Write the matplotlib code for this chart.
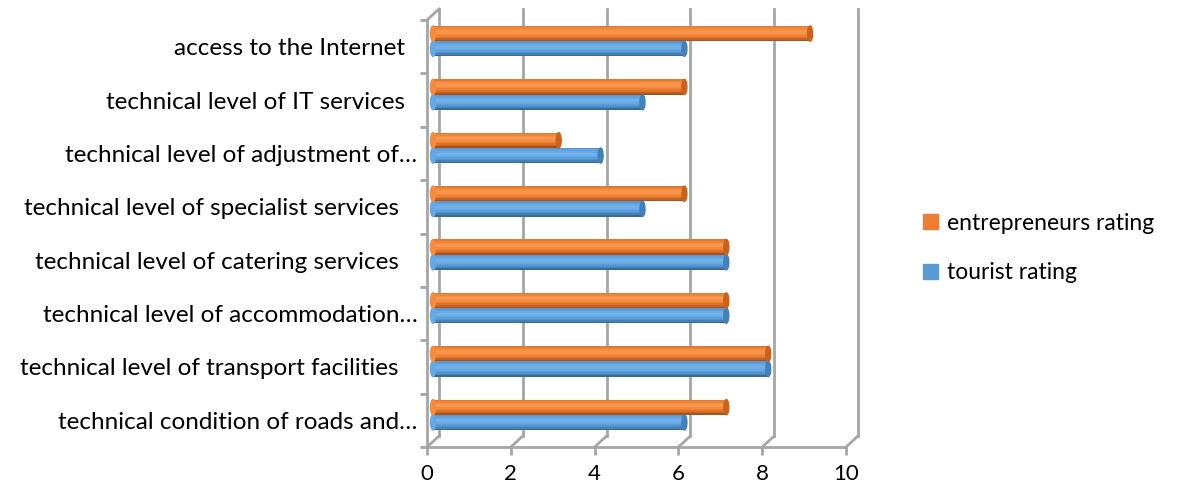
import numpy as np
import matplotlib
matplotlib.use('Agg')
import matplotlib.pyplot as plt
from matplotlib.patches import Patch, Ellipse

plt.rcParams['font.family'] = ['Lato', 'DejaVu Sans']

# data (bottom to top, as in the chart)
categories = ['technical condition of roads and…',
              'technical level of transport facilities   ',
              'technical level of accommodation…',
              'technical level of catering services   ',
              'technical level of specialist services   ',
              'technical level of adjustment of…',
              'technical level of IT services  ',
              'access to the Internet  ']
tourist = [6, 8, 7, 7, 5, 4, 5, 6]
entrepreneurs = [7, 8, 7, 7, 6, 3, 6, 9]
xticks = [0, 2, 4, 6, 8, 10]

W, H = 1178, 497
fig = plt.figure(figsize=(W / 100, H / 100), dpi=100)
ax = fig.add_axes([427 / W, 50 / H, 419 / W, 427 / H])
ax.set_xlim(0, 10)
ax.set_ylim(0, 8)
ax.set_facecolor('none')

pxx = 419 / 10.0   # pixels per x unit
pxy = 427 / 8.0    # pixels per category
gray = '#a6a6a6'

# back wall / floor offset (pseudo 3d)
bdx, bdy = 12 / pxx, 11 / pxy
for x in xticks:
    ax.plot([x + bdx, x + bdx], [bdy, 8 + bdy], color=gray, lw=2, clip_on=False, zorder=1)
    ax.plot([x, x + bdx], [0, bdy], color=gray, lw=2, clip_on=False, zorder=1)
ax.plot([0, bdx], [8, 8 + bdy], color=gray, lw=2, clip_on=False, zorder=1)

# cylinder bars
ddx, ddy = 6 / pxx, 5.5 / pxy
bh = 0.285
shade_o = ['#a9531a', '#c7631f', '#de7229', '#ec7f33', '#f48b3e', '#f7954a',
           '#f8984e', '#f59045', '#ee853a', '#e27a30']
shade_b = ['#3a6a98', '#4580b6', '#5293cd', '#5c9edb', '#66a8e4', '#6eb0ea',
           '#70b2eb', '#6aabe6', '#60a2df', '#5896d2']


def cylinder(vals, base, shades):
    y = np.arange(len(vals)) + base + ddy
    n = len(shades)
    for k, c in enumerate(shades):
        ax.barh(y + k * bh / n, vals, height=bh / n * 1.05, left=ddx, align='edge',
                color=c, lw=0, zorder=3, clip_on=False)
    for v, yy in zip(vals, y):
        ax.add_patch(Ellipse((v + ddx, yy + bh / 2), 5 / pxx, bh, color=shades[1],
                             zorder=4, clip_on=False))
        ax.add_patch(Ellipse((ddx, yy + bh / 2), 5 / pxx, bh, color=shades[4],
                             zorder=4, clip_on=False))


cylinder(tourist, 0.5 - bh, shade_b)
cylinder(entrepreneurs, 0.5, shade_o)

# axes lines and ticks
for s in ['top', 'right']:
    ax.spines[s].set_visible(False)
for s in ['left', 'bottom']:
    ax.spines[s].set_color(gray)
    ax.spines[s].set_linewidth(2)
ax.set_xticks(xticks)
ax.set_xticklabels([str(x) for x in xticks], fontsize=16)
ax.set_yticks(range(9))
ax.set_yticklabels([])
ax.set_yticks(np.arange(8) + 0.5, minor=True)
ax.set_yticklabels(categories, minor=True, fontsize=17.5)
ax.tick_params(axis='y', which='major', length=5, width=2, color=gray)
ax.tick_params(axis='y', which='minor', length=0, pad=7)
ax.tick_params(axis='x', length=6, width=2, color=gray, pad=6)

handles = [Patch(color='#ed7d31'), Patch(color='#5b9bd5')]
fig.legend(handles, ['entrepreneurs rating', 'tourist rating'],
           loc='center left', bbox_to_anchor=(902 / W, 1 - 248 / H), frameon=False,
           fontsize=16.5, handlelength=0.65, handleheight=0.65, handletextpad=0.4,
           labelspacing=1.25)

fig.savefig('out.png', dpi=100)
